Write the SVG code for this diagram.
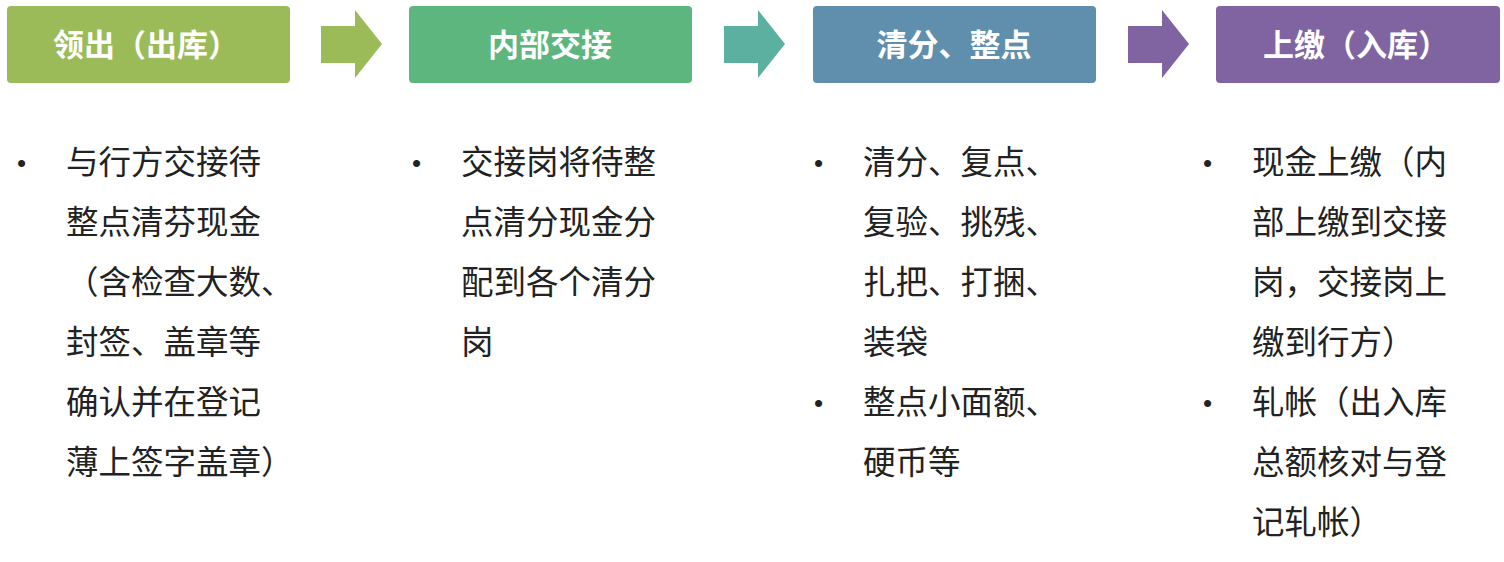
<svg xmlns="http://www.w3.org/2000/svg" width="1504" height="562" viewBox="0 0 1504 562">
<style>
.t{font-family:"Noto Sans CJK SC","Liberation Sans",sans-serif;font-weight:bold;font-size:31px;fill:#fff;text-anchor:middle}
.b{font-family:"Noto Sans CJK SC","Liberation Sans",sans-serif;font-size:32.5px;fill:#222}
.d{font-family:"Liberation Sans",sans-serif;font-size:26px;fill:#222}
</style>
<rect width="1504" height="562" fill="#fff"/>
<g id="n1"><rect x="7" y="6" width="283" height="77" rx="4" fill="#9BBB59"/><text class="t" x="146" y="56">领出（出库）</text></g>
<g id="n2"><rect x="409" y="6" width="283" height="77" rx="4" fill="#5DB67D"/><text class="t" x="550" y="56">内部交接</text></g>
<g id="n3"><rect x="813" y="6" width="283" height="77" rx="4" fill="#5F8FAD"/><text class="t" x="954" y="56">清分、整点</text></g>
<g id="n4"><rect x="1216" y="6" width="284" height="77" rx="4" fill="#8064A2"/><text class="t" x="1356" y="56">上缴（入库）</text></g>
<g id="connectors">
<polygon points="321,26 355,26 355,10 382,44 355,78 355,63 321,63" fill="#9BBB59"/>
<polygon points="724,26 758,26 758,10 785,44 758,78 758,63 724,63" fill="#5BB0A0"/>
<polygon points="1128,26 1162,26 1162,10 1189,44 1162,78 1162,63 1128,63" fill="#8064A2"/>
</g>
<g class="d">
<text x="17" y="172">•</text><text x="412" y="172">•</text><text x="814" y="172">•</text><text x="814" y="412">•</text><text x="1203" y="172">•</text><text x="1203" y="412">•</text>
</g>
<g class="b">
<text x="66" y="174">与行方交接待</text><text x="66" y="234">整点清芬现金</text><text x="66" y="294">（含检查大数、</text><text x="66" y="354">封签、盖章等</text><text x="66" y="414">确认并在登记</text><text x="66" y="474">薄上签字盖章）</text>
<text x="461" y="174">交接岗将待整</text><text x="461" y="234">点清分现金分</text><text x="461" y="294">配到各个清分</text><text x="461" y="354">岗</text>
<text x="863" y="174">清分、复点、</text><text x="863" y="234">复验、挑残、</text><text x="863" y="294">扎把、打捆、</text><text x="863" y="354">装袋</text>
<text x="863" y="414">整点小面额、</text><text x="863" y="474">硬币等</text>
<text x="1252" y="174">现金上缴（内</text><text x="1252" y="234">部上缴到交接</text><text x="1252" y="294">岗，交接岗上</text><text x="1252" y="354">缴到行方）</text>
<text x="1252" y="414">轧帐（出入库</text><text x="1252" y="474">总额核对与登</text><text x="1252" y="534">记轧帐）</text>
</g>
</svg>
